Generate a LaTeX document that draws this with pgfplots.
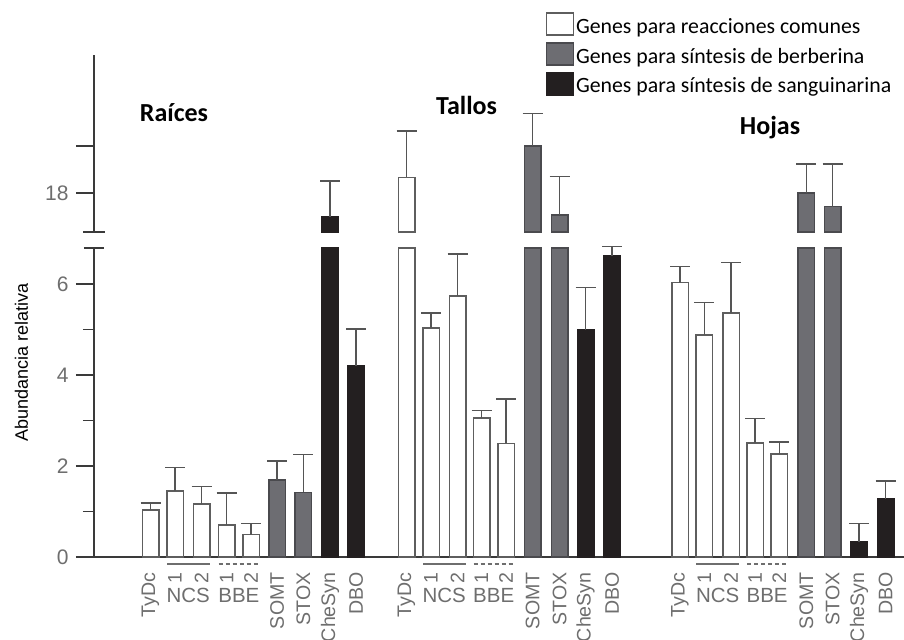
\documentclass[border=0pt]{standalone}
\usepackage{pgfplots}
\pgfplotsset{compat=1.18}
\usepackage{pgfplotstable}
\usetikzlibrary{plotmarks}
\usepackage{fontspec}
\setmainfont{Liberation Sans}
\newfontfamily\carlito{Carlito}
\definecolor{wdraw}{HTML}{5E5E5E}
\definecolor{gfill}{HTML}{6D6D72}
\definecolor{gdraw}{HTML}{4A4A4E}
\definecolor{bfill}{HTML}{231F20}
\definecolor{errc}{HTML}{555555}
\definecolor{axc}{HTML}{3A3A3A}
\definecolor{tickc}{HTML}{6E6E6E}

% x = horizontal position of bar centre (pixel grid), y = value, ep = upper error
\pgfplotstableread{
x y ep
150.5 1.03 0.16
175 1.45 0.51
201.5 1.16 0.39
226.7 0.70 0.71
251 0.49 0.24
406.5 18.67 1.97
431 5.03 0.33
457.5 5.74 0.92
481.5 3.05 0.17
506 2.50 0.97
680 6.03 0.35
704.3 4.88 0.71
731 5.36 1.11
755 2.51 0.54
779.3 2.26 0.27
}\common
\pgfplotstableread{
x y ep
277 1.69 0.42
303.3 1.42 0.84
532.5 20.01 1.38
559.5 17.06 1.63
806.3 18.01 1.22
832.7 17.42 1.81
}\berber
\pgfplotstableread{
x y ep
330 16.97 1.54
356 4.20 0.81
585.5 4.99 0.93
612 6.62 0.20
859 0.34 0.39
885.5 1.27 0.40
}\sangui

\tikzset{lab/.style={font=\fontsize{10.25}{12}\selectfont, text=tickc, inner sep=0pt}}
\pgfplotsset{
  barbase/.style={ybar, bar width=16.5, bar shift=0pt, line width=0.75pt,
    legend image code/.code={\draw[##1] (0pt,-4pt) rectangle (13.5pt,7pt);}},
  wbar/.style={barbase, fill=white, draw=wdraw},
  gbar/.style={barbase, fill=gfill, draw=gdraw},
  bbar/.style={barbase, fill=bfill, draw=bfill},
  errs/.style={error bars/.cd, y dir=plus, y explicit, error mark=|,
    error bar style={draw=errc, line width=0.65pt, solid},
    error mark options={draw=errc, line width=0.65pt, mark size=5pt, solid}},
  errplot/.style={draw=none, forget plot, errs},
  commonax/.style={
    x=0.5pt, xmin=94, xmax=904, clip=false,
    axis y line*=left,
    y axis line style={-, draw=axc, line width=0.75pt},
    tick align=outside,
    major tick length=9pt, minor tick length=5.5pt,
    ytick style={draw=axc, line width=0.75pt},
    yticklabel style={font=\fontsize{10.5}{12}\selectfont, text=tickc, inner sep=0pt},
    yticklabel shift=3.5pt,
    /pgf/number format/assume math mode=true,
  },
}

\begin{document}
\begin{tikzpicture}
\useasboundingbox (0pt,0pt) rectangle (452pt,319.5pt);

% lower part of the broken axis
\begin{axis}[commonax,
  at={(47pt,41pt)}, anchor=south west,
  y=22.75pt, ymin=0, ymax=6.79,
  axis x line*=bottom,
  x axis line style={-, draw=axc, line width=0.75pt},
  ytick={0,2,4,6}, minor ytick={1,3,5},
  extra y ticks={6.79}, extra y tick labels={},
  extra y tick style={tick align=center, major tick length=10pt},
  xtick={150.5,175,201.5,226.7,251,277,303.3,330,356,
         406.5,431,457.5,481.5,506,532.5,559.5,585.5,612,
         680,704.3,731,755,779.3,806.3,832.7,859,885.5},
  xticklabels={TyDc,1,2,1,2,SOMT,STOX,CheSyn,DBO,
               TyDc,1,2,1,2,SOMT,STOX,CheSyn,DBO,
               TyDc,1,2,1,2,SOMT,STOX,CheSyn,DBO},
  xtick style={draw=none},
  xticklabel style={rotate=90, anchor=east, inner sep=0pt,
    font=\fontsize{9.8}{12}\selectfont, text=tickc},
  xticklabel shift=-1.5pt,
  legend style={at={(axis description cs:0.557,1.764)}, anchor=north west,
    draw=none, fill=none, inner sep=0pt, row sep=2pt,
    font=\carlito\fontsize{10.9}{12}\selectfont,
    nodes={inner sep=1pt}},
  legend cell align=left,
]
\addplot[wbar, y filter/.expression={min(y,6.79)}] table[x=x,y=y] {\common};
\addlegendentry{Genes para reacciones comunes}
\addplot[gbar, y filter/.expression={min(y,6.79)}] table[x=x,y=y] {\berber};
\addlegendentry{Genes para síntesis de berberina}
\addplot[bbar, y filter/.expression={min(y,6.79)}] table[x=x,y=y] {\sangui};
\addlegendentry{Genes para síntesis de sanguinarina}
\addplot[errplot] table[x=x, y expr={\thisrow{y}>6.79 ? nan : \thisrow{y}}, y error plus=ep] {\common};
\addplot[errplot] table[x=x, y expr={\thisrow{y}>6.79 ? nan : \thisrow{y}}, y error plus=ep] {\berber};
\addplot[errplot] table[x=x, y expr={\thisrow{y}>6.79 ? nan : \thisrow{y}}, y error plus=ep] {\sangui};
% group labels under paired genes
\draw[tickc, line width=0.6pt] (axis cs:167,-0.154) -- (axis cs:209.5,-0.154);
\draw[tickc, line width=0.6pt] (axis cs:423,-0.154) -- (axis cs:465.5,-0.154);
\draw[tickc, line width=0.6pt] (axis cs:696.3,-0.154) -- (axis cs:739,-0.154);
\draw[tickc, line width=0.6pt, dash pattern=on 2pt off 1.5pt] (axis cs:218.7,-0.154) -- (axis cs:259,-0.154);
\draw[tickc, line width=0.6pt, dash pattern=on 2pt off 1.5pt] (axis cs:473.5,-0.154) -- (axis cs:514,-0.154);
\draw[tickc, line width=0.6pt, dash pattern=on 2pt off 1.5pt] (axis cs:747,-0.154) -- (axis cs:787.3,-0.154);
\node[lab] at (axis cs:188.25,-0.835) {NCS};
\node[lab] at (axis cs:444.25,-0.835) {NCS};
\node[lab] at (axis cs:717.65,-0.835) {NCS};
\node[lab] at (axis cs:238.85,-0.835) {BBE};
\node[lab] at (axis cs:493.75,-0.835) {BBE};
\node[lab] at (axis cs:767.15,-0.835) {BBE};
\end{axis}

% upper part of the broken axis (values above the break, shifted by 16.34)
\begin{axis}[commonax,
  at={(47pt,203.5pt)}, anchor=south west,
  y=11.75pt, ymin=0, ymax=7.53,
  axis x line=none,
  xtick=\empty,
  ytick={1.66,3.66}, yticklabels={18,{}},
  extra y ticks={0}, extra y tick labels={},
  extra y tick style={tick align=center, major tick length=11pt},
]
\addplot[wbar, errs] table[x=x, y expr={\thisrow{y}>10 ? \thisrow{y}-16.34 : nan}, y error plus=ep] {\common};
\addplot[gbar, errs] table[x=x, y expr={\thisrow{y}>10 ? \thisrow{y}-16.34 : nan}, y error plus=ep] {\berber};
\addplot[bbar, errs] table[x=x, y expr={\thisrow{y}>10 ? \thisrow{y}-16.34 : nan}, y error plus=ep] {\sangui};
\end{axis}

\node[font=\carlito\bfseries\fontsize{13}{15}\selectfont] at (87pt,263pt) {Raíces};
\node[font=\carlito\bfseries\fontsize{13}{15}\selectfont] at (233.3pt,267pt) {Tallos};
\node[font=\carlito\bfseries\fontsize{13}{15}\selectfont] at (385pt,255.5pt) {Hojas};
\node[rotate=90, font=\fontsize{9}{11}\selectfont] at (10.75pt,138.25pt) {Abundancia relativa};
\end{tikzpicture}
\end{document}
